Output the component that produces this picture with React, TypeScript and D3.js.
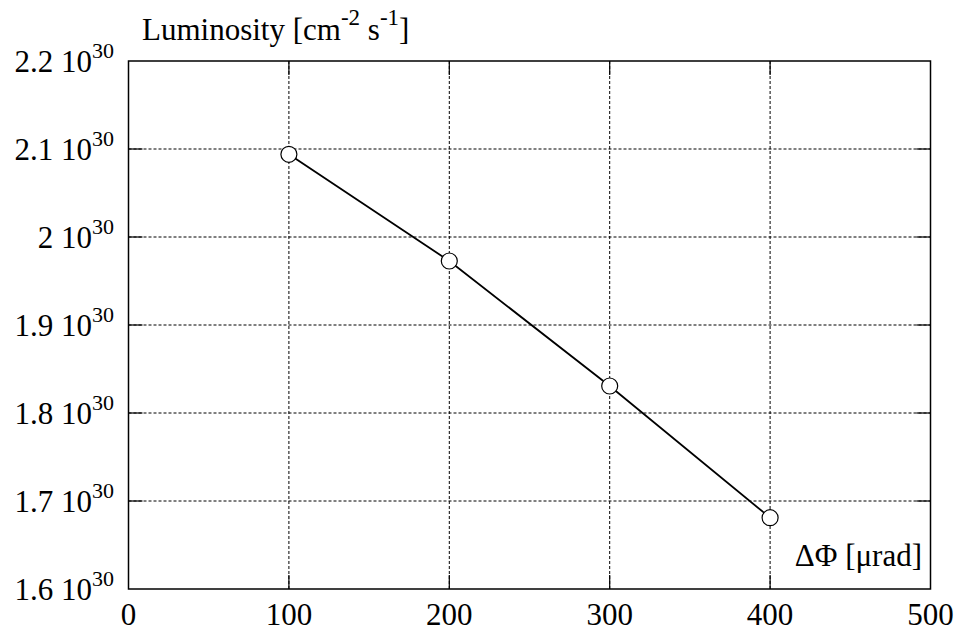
import React from "react";
import * as d3 from "d3";

const xValues = [100, 200, 300, 400];
const luminosity = [2.094, 1.9727, 1.8307, 1.681]; // ×10^30
const xTicks = [0, 100, 200, 300, 400, 500];
const yTicks = [1.6, 1.7, 1.8, 1.9, 2.0, 2.1, 2.2];
const yTickLabels = ["1.6", "1.7", "1.8", "1.9", "2", "2.1", "2.2"];

const W = 959;
const H = 632;
const M = { left: 128.5, right: 930.5, top: 61, bottom: 589 };
const FONT = "Liberation Serif, Times New Roman, Times, serif";

export default function App() {
  const x = d3.scaleLinear().domain([0, 500]).range([M.left, M.right]);
  const y = d3.scaleLinear().domain([1.6, 2.2]).range([M.bottom, M.top]);
  const line = d3
    .line<number>()
    .x((_, i) => x(xValues[i]))
    .y((d) => y(d));
  const tick = 14;
  const ts: React.CSSProperties = { fontFamily: FONT };

  return (
    <svg
      width={W}
      height={H}
      style={{ position: "absolute", left: 0, top: 0, background: "#fff", fontFamily: FONT }}
    >
      <rect x={0} y={0} width={W} height={H} fill="#fff" />
      {yTicks.slice(1, -1).map((t) => (
        <g key={"gy" + t}>
          <line x1={M.left} x2={M.right} y1={y(t)} y2={y(t)} stroke="#000" strokeWidth={1} strokeDasharray="3,2" />
          <line x1={M.left} x2={M.left + tick} y1={y(t)} y2={y(t)} stroke="#000" strokeWidth={1.2} />
          <line x1={M.right - tick} x2={M.right} y1={y(t)} y2={y(t)} stroke="#000" strokeWidth={1.2} />
        </g>
      ))}
      {xTicks.slice(1, -1).map((t) => (
        <g key={"gx" + t}>
          <line x1={x(t)} x2={x(t)} y1={M.top} y2={M.bottom} stroke="#000" strokeWidth={1} strokeDasharray="3,2" />
          <line x1={x(t)} x2={x(t)} y1={M.bottom - tick} y2={M.bottom} stroke="#000" strokeWidth={1.2} />
          <line x1={x(t)} x2={x(t)} y1={M.top} y2={M.top + tick} stroke="#000" strokeWidth={1.2} />
        </g>
      ))}
      <rect
        x={M.left}
        y={M.top}
        width={M.right - M.left}
        height={M.bottom - M.top}
        fill="none"
        stroke="#000"
        strokeWidth={1.5}
      />
      {yTicks.map((t, i) => (
        <text key={"yl" + t} x={114} y={y(t) + 11} textAnchor="end" fontSize={31} fill="#000" style={ts}>
          <tspan>{yTickLabels[i]} 10</tspan>
          <tspan dy={-14} fontSize={22}>30</tspan>
        </text>
      ))}
      {xTicks.map((t) => (
        <text key={"xl" + t} x={x(t)} y={625} textAnchor="middle" fontSize={31} fill="#000" style={ts}>
          {t}
        </text>
      ))}
      <path d={line(luminosity) || ""} fill="none" stroke="#000" strokeWidth={1.8} />
      {luminosity.map((v, i) => (
        <circle key={"p" + i} cx={x(xValues[i])} cy={y(v)} r={8} fill="#fff" stroke="#000" strokeWidth={1.2} />
      ))}
      <text x={142} y={40} fontSize={31} fill="#000" style={ts}>
        <tspan>Luminosity [cm</tspan>
        <tspan dy={-15} fontSize={23}>-2</tspan>
        <tspan dy={15} fontSize={31}> s</tspan>
        <tspan dy={-15} fontSize={23}>-1</tspan>
        <tspan dy={15} fontSize={31}>]</tspan>
      </text>
      <text x={922} y={566} textAnchor="end" fontSize={31} fill="#000" style={ts}>
        ΔΦ [μrad]
      </text>
    </svg>
  );
}
